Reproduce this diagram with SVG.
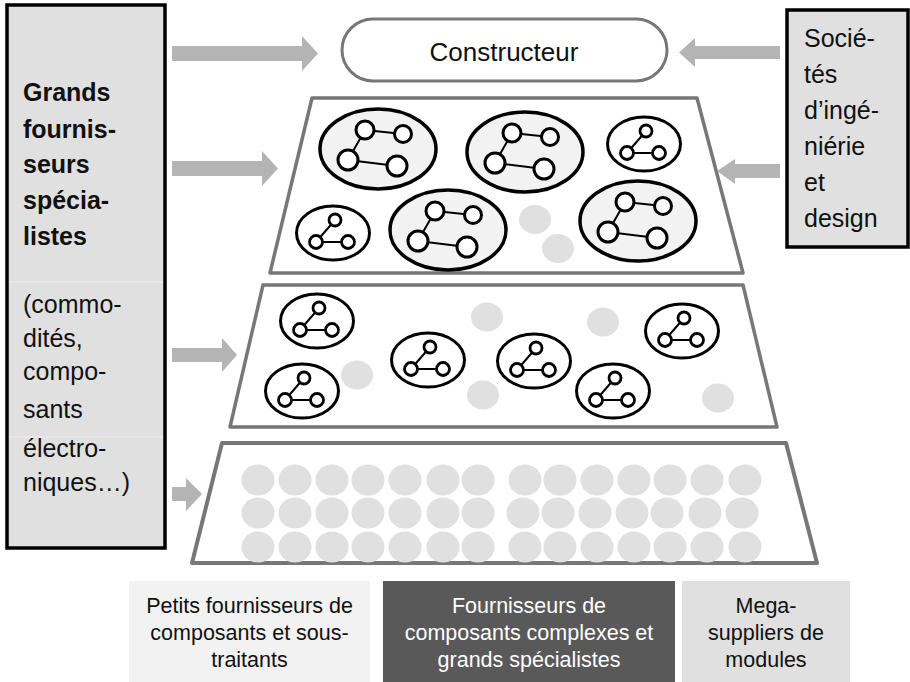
<svg xmlns="http://www.w3.org/2000/svg" xmlns:xlink="http://www.w3.org/1999/xlink" width="910" height="682" viewBox="0 0 910 682">
<style>
text{font-family:"Liberation Sans",Arial,sans-serif;fill:#111}
.big{font-size:25px}
.bold{font-size:25px;font-weight:bold}
.lbl{font-size:21.5px;text-anchor:middle}
.box{fill:#e0e0e0;stroke:#000;stroke-width:3.5}
.layer{fill:#fff;stroke:#777;stroke-width:3.5;stroke-linejoin:round}
.arrow{fill:#b4b4b4}
.dot{fill:#e0e0e0}
.ln{stroke:#000;stroke-width:2}
.nc{fill:#fff;stroke:#000;stroke-width:3}
</style>
<defs>
<g id="bigNode">
<ellipse cx="0" cy="0" rx="58" ry="40" fill="#f2f2f2" stroke="#000" stroke-width="3.5"/>
<line class="ln" x1="-13" y1="-19" x2="25" y2="-15"/>
<line class="ln" x1="-13" y1="-19" x2="-30" y2="11"/>
<line class="ln" x1="-30" y1="11" x2="19" y2="17"/>
<circle class="nc" cx="-13" cy="-19" r="9"/>
<circle class="nc" cx="25" cy="-15" r="8.5"/>
<circle class="nc" cx="-30" cy="11" r="10"/>
<circle class="nc" cx="19" cy="17" r="10"/>
</g>
<g id="smallNode">
<ellipse cx="0" cy="0" rx="36.5" ry="27" fill="#fff" stroke="#000" stroke-width="3"/>
<line class="ln" x1="2" y1="-13" x2="-17" y2="9"/>
<line class="ln" x1="-17" y1="9" x2="15" y2="9"/>
<circle cx="2" cy="-13" r="6" fill="#fff" stroke="#000" stroke-width="2.8"/>
<circle cx="-17" cy="9" r="6.5" fill="#fff" stroke="#000" stroke-width="2.8"/>
<circle cx="15" cy="9" r="6.5" fill="#fff" stroke="#000" stroke-width="2.8"/>
</g>
<ellipse id="d" cx="0" cy="0" rx="16.5" ry="15.5" class="dot"/>
</defs>

<g id="grands-fournisseurs">
<rect class="box" x="7" y="5" width="158" height="543"/>
<line x1="9" y1="282" x2="163" y2="282" stroke="#ebebeb" stroke-width="1.5"/>
<line x1="9" y1="437" x2="163" y2="437" stroke="#ebebeb" stroke-width="1.5"/>
<text class="bold" x="23" y="101">Grands</text>
<text class="bold" x="23" y="138">fournis-</text>
<text class="bold" x="23" y="173">seurs</text>
<text class="bold" x="23" y="209">spécia-</text>
<text class="bold" x="23" y="245">listes</text>
<text class="big" x="23" y="313">(commo-</text>
<text class="big" x="23" y="347">dités,</text>
<text class="big" x="23" y="380">compo-</text>
<text class="big" x="23" y="418">sants</text>
<text class="big" x="23" y="457">électro-</text>
<text class="big" x="23" y="491">niques…)</text>
</g>

<g id="societes-ingenierie">
<rect class="box" x="787" y="10" width="121" height="237"/>
<text class="big" x="804" y="47">Socié-</text>
<text class="big" x="804" y="83">tés</text>
<text class="big" x="804" y="119">d’ingé-</text>
<text class="big" x="804" y="155">niérie</text>
<text class="big" x="804" y="191">et</text>
<text class="big" x="804" y="227">design</text>
</g>

<g id="constructeur">
<rect x="342" y="19" width="325" height="62" rx="31" ry="31" fill="#fff" stroke="#777" stroke-width="3"/>
<text x="504" y="61" style="font-size:26px;text-anchor:middle">Constructeur</text>
</g>

<g id="layer-mega">
<polygon class="layer" points="312,98 697,98 743,273 270,273"/>
<use xlink:href="#bigNode" transform="translate(378,149)"/>
<use xlink:href="#bigNode" transform="translate(525,152)"/>
<use xlink:href="#smallNode" transform="translate(644,144)"/>
<use xlink:href="#smallNode" transform="translate(333,233)"/>
<use xlink:href="#bigNode" transform="translate(448,230)"/>
<use xlink:href="#bigNode" transform="translate(638,221)"/>
<ellipse class="dot" cx="535" cy="219.5" rx="16" ry="14.5"/>
<ellipse class="dot" cx="558" cy="248.5" rx="16" ry="14.5"/>
</g>

<g id="layer-complexes">
<polygon class="layer" points="263,285 743,285 777,427 230,427"/>
<use xlink:href="#smallNode" transform="translate(317,321)"/>
<use xlink:href="#smallNode" transform="translate(302,391)"/>
<use xlink:href="#smallNode" transform="translate(428,360)"/>
<use xlink:href="#smallNode" transform="translate(534,361)"/>
<use xlink:href="#smallNode" transform="translate(613,391)"/>
<use xlink:href="#smallNode" transform="translate(682,331)"/>
<ellipse class="dot" cx="487" cy="317" rx="16" ry="14.5"/>
<ellipse class="dot" cx="603" cy="322" rx="16" ry="14.5"/>
<ellipse class="dot" cx="357" cy="375" rx="16" ry="14.5"/>
<ellipse class="dot" cx="483" cy="395" rx="16" ry="14.5"/>
<ellipse class="dot" cx="718" cy="398" rx="16" ry="14.5"/>
</g>

<g id="layer-petits">
<polygon class="layer" points="222,443 786,443 817,563 192,563" style="stroke-width:4"/>
<g>
<use xlink:href="#d" x="258" y="480"/><use xlink:href="#d" x="295" y="480"/><use xlink:href="#d" x="332" y="480"/><use xlink:href="#d" x="368" y="480"/><use xlink:href="#d" x="405" y="480"/><use xlink:href="#d" x="443" y="480"/><use xlink:href="#d" x="478" y="480"/>
<use xlink:href="#d" x="525" y="480"/><use xlink:href="#d" x="560" y="480"/><use xlink:href="#d" x="597" y="480"/><use xlink:href="#d" x="634" y="480"/><use xlink:href="#d" x="670" y="480"/><use xlink:href="#d" x="707" y="480"/><use xlink:href="#d" x="745" y="480"/>
<use xlink:href="#d" x="258" y="513"/><use xlink:href="#d" x="295" y="513"/><use xlink:href="#d" x="332" y="513"/><use xlink:href="#d" x="368" y="513"/><use xlink:href="#d" x="405" y="513"/><use xlink:href="#d" x="443" y="513"/><use xlink:href="#d" x="478" y="513"/>
<use xlink:href="#d" x="523" y="513"/><use xlink:href="#d" x="558" y="513"/><use xlink:href="#d" x="595" y="513"/><use xlink:href="#d" x="632" y="513"/><use xlink:href="#d" x="667" y="513"/><use xlink:href="#d" x="705" y="513"/><use xlink:href="#d" x="742" y="513"/>
<use xlink:href="#d" x="258" y="547"/><use xlink:href="#d" x="295" y="547"/><use xlink:href="#d" x="332" y="547"/><use xlink:href="#d" x="368" y="547"/><use xlink:href="#d" x="405" y="547"/><use xlink:href="#d" x="443" y="547"/><use xlink:href="#d" x="478" y="547"/>
<use xlink:href="#d" x="525" y="547"/><use xlink:href="#d" x="560" y="547"/><use xlink:href="#d" x="597" y="547"/><use xlink:href="#d" x="634" y="547"/><use xlink:href="#d" x="670" y="547"/><use xlink:href="#d" x="707" y="547"/><use xlink:href="#d" x="745" y="547"/>
</g>
</g>

<g id="connectors">
<polygon class="arrow" points="172,46 302,46 302,36 318,53.5 302,71 302,61 172,61"/>
<polygon class="arrow" points="780,46 695,46 695,38 679,52.5 695,67 695,59 780,59"/>
<polygon class="arrow" points="172,161 262,161 262,151 278,168.5 262,186 262,176 172,176"/>
<polygon class="arrow" points="780,164 735,164 735,159 717,171 735,184 735,178 780,178"/>
<polygon class="arrow" points="172,348 222,348 222,338 237,355 222,372 222,362 172,362"/>
<polygon class="arrow" points="172,487 186,487 186,478 202,494 186,511 186,501 172,501"/>
</g>

<g id="label-petits">
<rect x="129" y="581" width="241" height="101" fill="#f2f2f2"/>
<text class="lbl" x="249.5" y="613">Petits fournisseurs de</text>
<text class="lbl" x="249.5" y="640">composants et sous-</text>
<text class="lbl" x="249.5" y="667">traitants</text>
</g>
<g id="label-complexes">
<rect x="383" y="581" width="292" height="101" fill="#595959"/>
<text class="lbl" x="529" y="613" style="fill:#fff">Fournisseurs de</text>
<text class="lbl" x="529" y="640" style="fill:#fff">composants complexes et</text>
<text class="lbl" x="529" y="667" style="fill:#fff">grands spécialistes</text>
</g>
<g id="label-mega">
<rect x="682" y="581" width="168" height="101" fill="#e0e0e0"/>
<text class="lbl" x="766" y="613">Mega-</text>
<text class="lbl" x="766" y="640">suppliers de</text>
<text class="lbl" x="766" y="667">modules</text>
</g>
</svg>
